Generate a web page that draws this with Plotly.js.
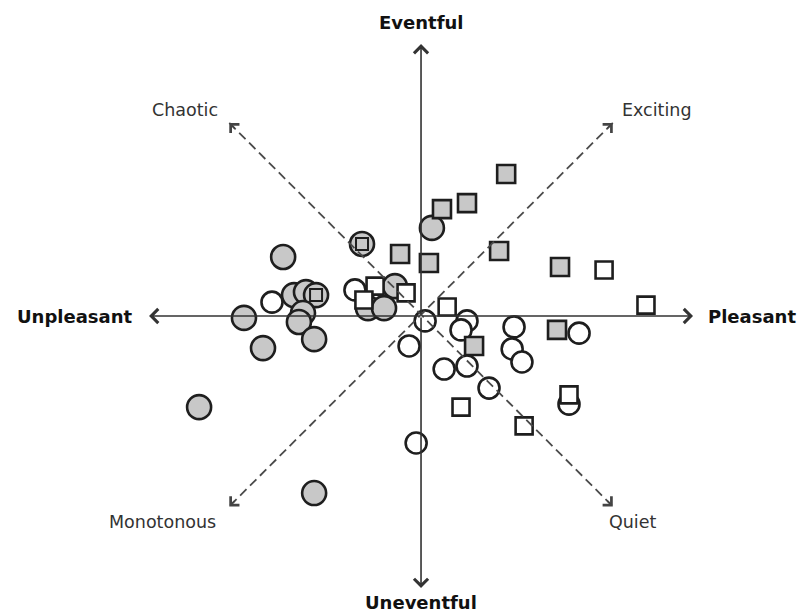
<!DOCTYPE html>
<html>
<head>
<meta charset="utf-8">
<script src="https://cdn.plot.ly/plotly-3.0.1.min.js"></script>
<style>html,body{margin:0;padding:0;background:#fff;}#chart{width:801px;height:613px;}</style>
</head>
<body>
<div id="chart"></div>
<script>
// Pleasantness (x) and eventfulness (y) of each soundscape
const grayCircleX = [-0.507,-0.467,-0.423,-0.386,-0.651,-0.434,-0.449,-0.393,-0.581,-0.217,-0.096,-0.195,-0.136,0.040,-0.816,-0.393];
const grayCircleY = [0.217,0.077,0.088,0.077,-0.007,0.011,-0.022,-0.085,-0.118,0.265,0.110,0.029,0.029,0.324,-0.335,-0.651];

const whiteCircleX = [-0.548,-0.243,0.015,-0.044,0.169,0.147,0.342,0.581,0.335,0.371,0.085,0.169,0.250,0.544,-0.018];
const whiteCircleY = [0.051,0.096,-0.018,-0.110,-0.018,-0.051,-0.040,-0.063,-0.121,-0.169,-0.195,-0.184,-0.265,-0.324,-0.467];

const graySquareX = [0.313,0.169,0.077,-0.077,0.029,0.287,0.511,0.500,0.195];
const graySquareY = [0.522,0.415,0.393,0.228,0.195,0.239,0.180,-0.051,-0.110];

const whiteSquareX = [0.673,0.827,0.096,-0.169,-0.055,-0.210,0.147,0.379,0.544];
const whiteSquareY = [0.169,0.040,0.033,0.110,0.085,0.059,-0.335,-0.404,-0.290];

const innerSquareX = [-0.217,-0.386];
const innerSquareY = [0.265,0.077];

// Dimension labels
const axisLabels = ['Eventful','Uneventful','Unpleasant','Pleasant'];
const axisLabelX = [0, 0, -1.272, 1.217];
const axisLabelY = [1.081, -1.055, 0, 0];
const diagLabels = ['Chaotic','Exciting','Monotonous','Quiet'];
const diagLabelX = [-0.868, 0.868, -0.952, 0.779];
const diagLabelY = [0.757, 0.757, -0.757, -0.757];

// Arrow tips
const axisTipX = [0, 0, -1, 1];
const axisTipY = [1, -1, 0, 0];
const diagTipX = [-0.705, 0.705, -0.705, 0.705];
const diagTipY = [0.71, 0.71, -0.70, -0.70];

const outline = '#1e1e1e';
const grayFill = '#c8c8c8';

const traces = [
  {x: grayCircleX, y: grayCircleY, type:'scatter', mode:'markers', name:'gray circles',
   marker:{symbol:'circle', size:24, color:grayFill, line:{color:outline, width:2.6}}},
  {x: whiteCircleX, y: whiteCircleY, type:'scatter', mode:'markers', name:'white circles',
   marker:{symbol:'circle', size:21, color:'#ffffff', line:{color:outline, width:2.6}}},
  {x: graySquareX, y: graySquareY, type:'scatter', mode:'markers', name:'gray squares',
   marker:{symbol:'square', size:18, color:grayFill, line:{color:outline, width:2.6}}},
  {x: whiteSquareX, y: whiteSquareY, type:'scatter', mode:'markers', name:'white squares',
   marker:{symbol:'square', size:17, color:'#ffffff', line:{color:outline, width:2.6}}},
  {x: innerSquareX, y: innerSquareY, type:'scatter', mode:'markers', name:'inner squares',
   marker:{symbol:'square', size:12, color:grayFill, line:{color:outline, width:2}}}
];

const annotations = [];
const shapes = [];
// Solid axes with open arrowheads
for (let i = 0; i < axisTipX.length; i++) {
  annotations.push({x: axisTipX[i], y: axisTipY[i], ax: 0, ay: 0, axref:'x', ayref:'y',
    xref:'x', yref:'y', text:'', showarrow:true, arrowhead:4, arrowsize:1.7, arrowwidth:1.6, arrowcolor:'#333'});
}
// Dashed diagonals
shapes.push({type:'line', xref:'x', yref:'y', x0: diagTipX[0], y0: diagTipY[0], x1: diagTipX[3], y1: diagTipY[3],
  line:{color:'#4a4a4a', width:1.8, dash:'9px,5px'}});
shapes.push({type:'line', xref:'x', yref:'y', x0: diagTipX[1], y0: diagTipY[1], x1: diagTipX[2], y1: diagTipY[2],
  line:{color:'#4a4a4a', width:1.8, dash:'9px,5px'}});
for (let i = 0; i < diagTipX.length; i++) {
  const sx = diagTipX[i] < 0 ? 7 : -7;
  const sy = diagTipY[i] > 0 ? 7 : -7;
  annotations.push({x: diagTipX[i], y: diagTipY[i], ax: sx, ay: sy, xref:'x', yref:'y',
    text:'', showarrow:true, arrowhead:4, arrowsize:1.5, arrowwidth:1.6, arrowcolor:'#444'});
}
for (let i = 0; i < axisLabels.length; i++) {
  annotations.push({x: axisLabelX[i], y: axisLabelY[i], xref:'x', yref:'y', text:'<b>'+axisLabels[i]+'</b>',
    showarrow:false, font:{family:'DejaVu Sans', size:18, color:'#111'}});
}
for (let i = 0; i < diagLabels.length; i++) {
  annotations.push({x: diagLabelX[i], y: diagLabelY[i], xref:'x', yref:'y', text: diagLabels[i],
    showarrow:false, font:{family:'DejaVu Sans', size:17.5, color:'#333'}});
}

const layout = {
  width: 801, height: 613,
  margin: {l:0, r:0, t:0, b:0},
  paper_bgcolor:'#ffffff', plot_bgcolor:'#ffffff',
  showlegend:false,
  xaxis:{range:[-1.548, 1.397], visible:false, fixedrange:true},
  yaxis:{range:[-1.092, 1.162], visible:false, fixedrange:true},
  shapes: shapes,
  annotations: annotations
};
Plotly.newPlot('chart', traces, layout, {staticPlot:true});
</script>
</body>
</html>
